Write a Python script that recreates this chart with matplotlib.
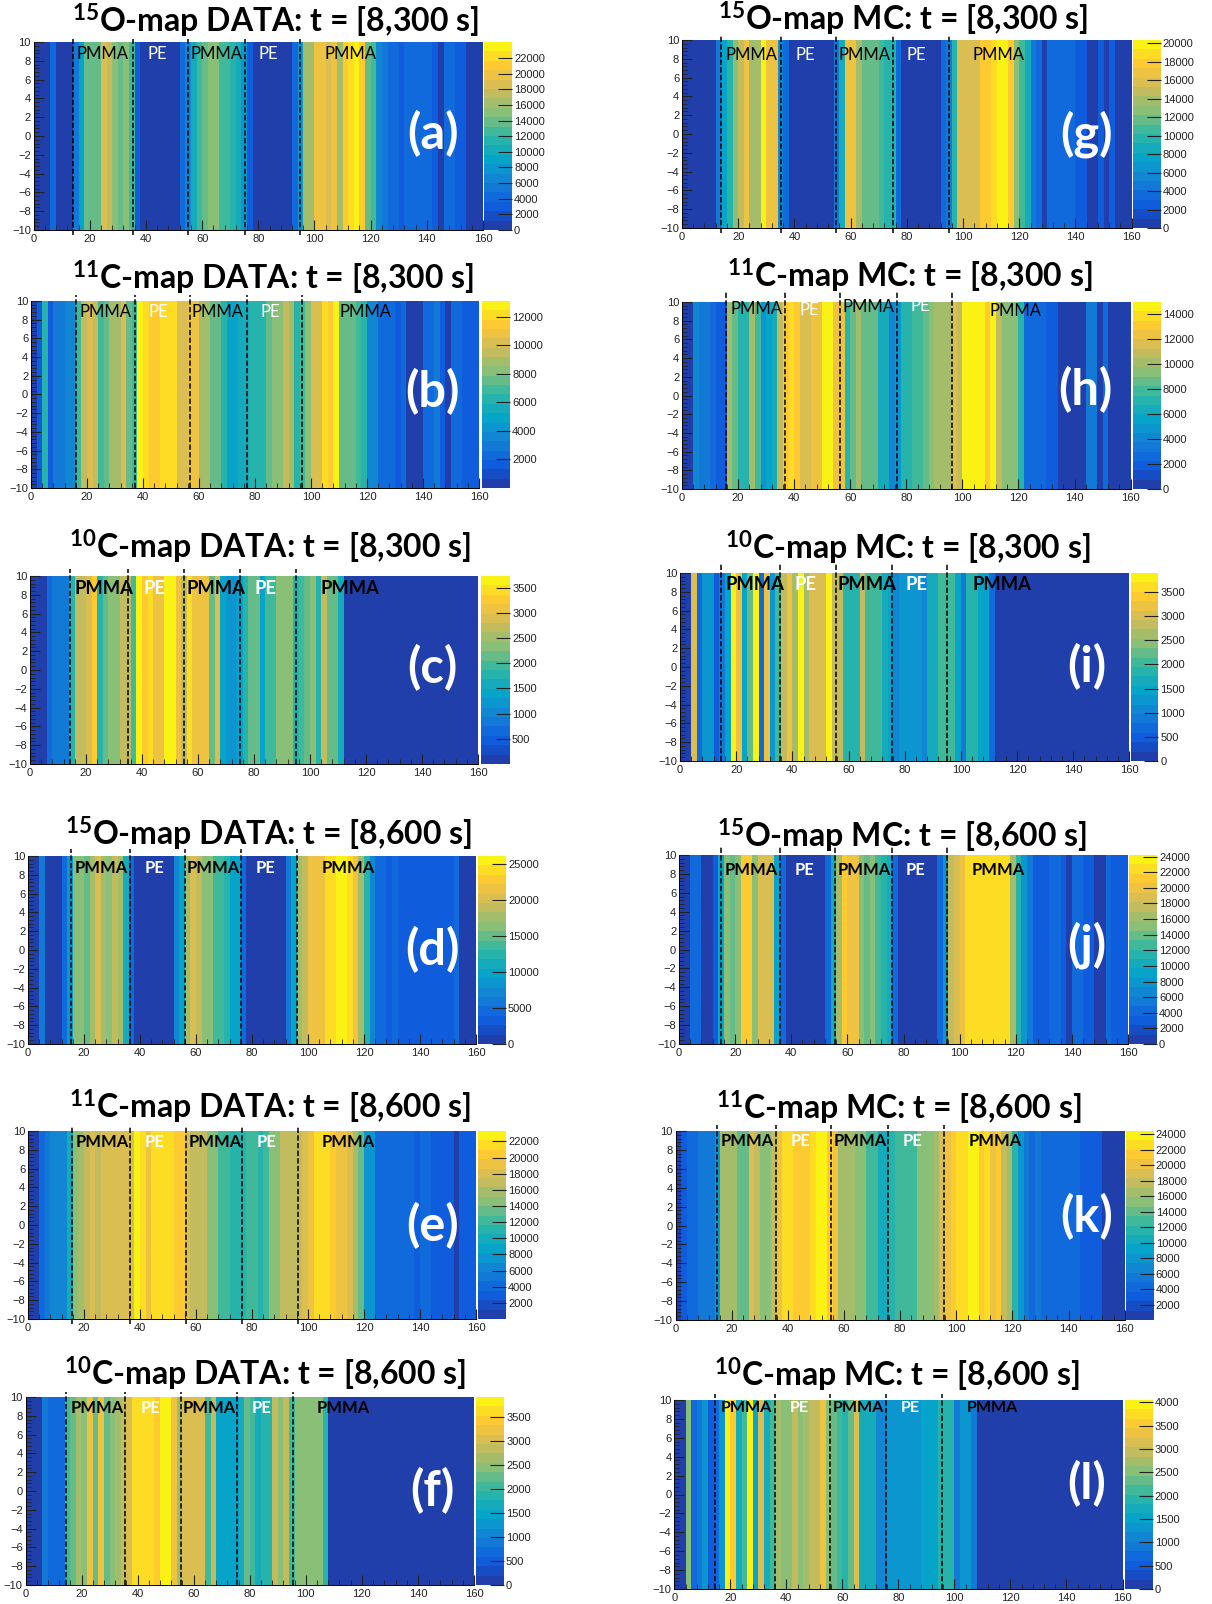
import numpy as np
import matplotlib
matplotlib.use("Agg")
import matplotlib.pyplot as plt
from matplotlib.colors import LinearSegmentedColormap, BoundaryNorm
from matplotlib.ticker import MultipleLocator

plt.rcParams['font.family'] = ['Liberation Sans', 'DejaVu Sans']
plt.rcParams['mathtext.fontset'] = 'custom'
plt.rcParams['mathtext.rm'] = 'Lato:bold'
plt.rcParams['mathtext.default'] = 'rm'

W, H = 1212, 1604
N_LEVELS = 20

# ROOT kBird palette, first stop pulled towards the blue of the picture
bird = [(0.14, 0.22, 0.62), (0.0592, 0.3599, 0.8684), (0.0780, 0.5041, 0.8385),
        (0.0232, 0.6419, 0.7914), (0.1802, 0.7178, 0.6425), (0.5301, 0.7492, 0.4662),
        (0.8186, 0.7328, 0.3499), (0.9956, 0.7862, 0.1968), (0.9764, 0.9832, 0.0539)]

# activity per 2 cm bin along x (0-160), read as colour class 0-19
o15_data_300 = [0,0,0,2,0,0,0,3,6,10, 10,10,14,13,11,10,11,9,1,0,
                0,0,0,0,0,0,2,4,7,9, 10,11,11,9,9,8,7,5,1,0,
                0,0,0,0,0,0,2,5,12,12, 15,15,14,15,12,16,18,19,16,10,
                9,4,3,2,2,1,2,2,2,2, 2,1,0,2,2,1,1,0,0,0]
c11_data_300 = [0,1,8,1,3,3,4,4,9,13, 14,13,9,10,12,12,14,10,9,19,
                18,16,16,18,18,18,14,14,15,15, 12,12,10,10,8,6,6,7,7,8,
                8,8,10,11,11,13,12,8,9,11, 14,14,18,16,19,10,10,10,9,8,
                4,4,2,2,2,1,2,0,0,0, 2,2,3,1,0,2,2,1,1,1]
c10_data_300 = [0,0,0,2,3,3,3,8,13,13, 14,16,8,10,11,11,13,13,9,19,
                16,18,15,15,19,19,15,13,17,15, 15,15,10,14,6,5,5,6,8,10,
                10,6,9,9,11,11,11,8,9,10, 11,8,13,10,10,7,0,0,0,0,
                0,0,0,0,0,0,0,0,0,0, 0,0,0,0,0,0,0,0,0,0]
o15_data_600 = [0,0,3,0,0,0,2,5,11,11, 10,12,14,12,11,13,12,7,2,0,
                0,0,0,0,0,0,4,6,12,14, 13,11,11,9,9,8,6,6,2,0,
                0,0,0,0,0,0,3,6,12,13, 15,15,15,17,17,19,19,17,15,12,
                8,4,2,2,1,2,1,1,1,1, 1,1,1,1,1,1,2,0,0,0]
c11_data_600 = [0,0,2,3,4,4,4,7,11,12, 13,14,13,14,14,14,14,14,14,19,
                17,15,17,17,17,18,16,16,14,13, 13,13,11,11,9,9,8,8,8,9,
                9,8,9,11,11,13,13,13,13,14, 15,17,17,17,16,15,15,14,12,10,
                5,5,2,2,2,2,2,2,2,1, 2,2,1,1,1,1,0,1,1,1]
c10_data_600 = [0,0,0,3,2,2,2,9,10,12, 11,15,10,15,10,11,12,13,14,17,
                18,17,17,16,19,19,15,12,14,14, 14,14,9,13,6,6,6,6,7,10,
                9,7,8,8,13,11,13,9,11,11, 11,11,11,8,0,0,0,0,0,0,
                0,0,0,0,0,0,0,0,0,0, 0,0,0,0,0,0,0,0,0,0]
o15_mc_300 = [0,0,0,0,0,0,3,6,8,11, 13,15,12,12,19,15,15,4,2,0,
              0,0,0,0,0,0,0,3,7,15, 15,12,10,10,10,9,8,8,2,0,
              0,0,0,0,0,0,2,3,8,14, 14,14,14,16,16,17,19,19,16,11,
              9,7,3,2,0,2,2,2,2,2, 1,1,0,0,1,0,1,0,0,0]
c11_mc_300 = [0,0,4,3,3,2,1,1,12,10, 8,8,12,9,5,6,7,13,16,17,
              16,14,14,15,15,19,19,15,15,8, 10,12,10,10,10,7,7,4,5,8,
              8,9,9,10,11,12,12,12,14,13, 19,19,19,19,16,19,13,11,11,11,
              8,2,2,2,2,1,1,0,0,0, 0,0,3,3,0,2,0,0,0,0]
c10_mc_300 = [0,0,14,2,5,5,1,3,6,19, 15,6,10,19,2,15,5,9,13,15,
              12,19,12,14,14,14,19,13,13,8, 8,8,13,9,9,9,7,6,4,5,
              5,5,5,4,7,7,9,9,9,6, 3,8,8,6,6,2,0,0,0,0,
              0,0,0,0,0,0,0,0,0,0, 0,0,0,0,0,0,0,0,0,0]
o15_mc_600 = [0,0,2,2,0,0,1,6,11,10, 11,16,16,11,14,14,14,6,2,0,
              0,0,0,0,0,0,2,7,12,16, 15,15,11,10,11,9,8,7,2,0,
              0,0,0,0,0,0,2,5,13,14, 15,17,17,17,18,17,18,17,17,12,
              8,5,3,1,1,1,2,2,1,0, 2,2,1,1,0,0,2,1,1,1]
c11_mc_600 = [0,1,2,2,3,3,3,5,12,12, 12,10,10,14,13,11,11,13,15,18,
              17,16,16,16,17,19,19,16,15,12, 12,12,11,11,9,9,7,7,8,9,
              9,9,9,11,11,11,12,14,15,16, 17,17,19,19,16,17,15,16,13,12,
              8,5,3,2,3,2,2,2,2,2, 2,2,1,1,1,1,0,0,0,0]
c10_mc_600 = [0,0,11,2,3,5,1,2,5,19, 16,7,9,19,6,14,7,9,12,11,
              11,13,11,12,13,13,15,11,10,9, 8,10,14,7,7,7,4,4,5,5,
              5,5,5,5,6,6,6,8,8,8, 3,5,5,3,0,0,0,0,0,0,
              0,0,0,0,0,0,0,0,0,0, 0,0,0,0,0,0,0,0,0,0]
# colour class as read -> contour of the colour bar
contour_of_class = np.array([0, 2, 3, 4, 5, 6, 7, 8, 9, 10, 11, 12, 13, 14, 15, 16, 17, 18, 18, 19])

x_edges = np.arange(0, 162, 2)
y_edges = np.array([-10, 10])

isotope_labels = ["$^{15}$O", "$^{11}$C", "$^{10}$C", "$^{15}$O", "$^{11}$C", "$^{10}$C",
                  "$^{15}$O", "$^{11}$C", "$^{10}$C", "$^{15}$O", "$^{11}$C", "$^{10}$C"]
kinds = ["DATA"] * 6 + ["MC"] * 6
t_ends = [300, 300, 300, 600, 600, 600, 300, 300, 300, 600, 600, 600]
letters = ["(a)", "(b)", "(c)", "(d)", "(e)", "(f)", "(g)", "(h)", "(i)", "(j)", "(k)", "(l)"]
series = [o15_data_300, c11_data_300, c10_data_300, o15_data_600, c11_data_600, c10_data_600,
          o15_mc_300, c11_mc_300, c10_mc_300, o15_mc_600, c11_mc_600, c10_mc_600]
z_max = [24050, 13100, 3730, 26060, 23300, 3925, 20360, 14980, 3890, 24200, 24440, 4050]
z_ticks = [np.arange(0, 22001, 2000), np.arange(2000, 12001, 2000), np.arange(500, 3501, 500),
           np.arange(0, 25001, 5000), np.arange(2000, 22001, 2000), np.arange(0, 3501, 500),
           np.arange(0, 20001, 2000), np.arange(0, 14001, 2000), np.arange(0, 3501, 500),
           np.arange(0, 24001, 2000), np.arange(2000, 24001, 2000), np.arange(0, 4001, 500)]
# dashed lines between the blocks, cm
walls = [[14, 35.3, 55, 75.1, 94.9], [16, 37, 56.8, 77, 96.9], [14.2, 35.1, 55, 75, 94.9],
         [15.3, 36.4, 56, 76.2, 96], [15.6, 36.6, 56.3, 76.4, 96.3], [14.6, 35.6, 55.3, 75.4, 95.4],
         [14, 35.1, 54.9, 75, 94.9], [15.7, 36.8, 56.5, 76.7, 96.4], [14.5, 35.5, 55.4, 75.4, 95.2],
         [14.9, 35.9, 55.7, 75.8, 95.5], [14.7, 35.8, 55.5, 75.8, 95.6], [14.7, 35.8, 55.5, 75.6, 95.5]]
block_names = ["PMMA", "PE", "PMMA", "PE", "PMMA"]
block_colors = ["black", "white", "black", "white", "black"]
block_x = [[24.7, 44, 65, 83.6, 113], [26.6, 45.6, 66.7, 85.4, 119.3], [26.3, 44.5, 66.4, 84, 114.3],
           [26.3, 45.2, 66.3, 84.8, 114.3], [26.6, 45.3, 66.7, 85.1, 114.5], [25.5, 44.5, 65.6, 84.1, 113.5],
           [24.8, 43.9, 64.9, 83.4, 112.7], [26.4, 45.5, 66.4, 85, 119], [26.8, 44.8, 66.6, 84.3, 114.6],
           [25.7, 44.7, 65.9, 84.3, 113.8], [25.6, 44.6, 65.8, 84.3, 113.8], [25.6, 44.6, 65.7, 84.1, 113.6]]
# pixels below the top edge
block_drop = [[12] * 5, [11] * 5, [13] * 5, [12] * 5, [11] * 5, [11] * 5,
              [15] * 5, [7, 8, 5, 4, 9], [11] * 5, [15] * 5, [10] * 5, [8] * 5]
block_bold = [False, False, True, True, True, True, False, False, True, True, True, True]
block_size = [12, 12, 13.2, 11.9, 11.9, 11.9, 12, 12, 13.2, 11.9, 11.9, 11.6]

# panel geometry in pixels: left, right, top, bottom, bar left, bar right
boxes = [(33.6, 483, 42, 230, 484, 512), (31, 479, 301, 488, 482, 510), (30, 478, 576, 764, 481, 510),
         (28, 476, 856, 1044, 478, 506), (28, 476, 1131, 1319, 478, 506), (25.5, 474, 1397, 1585, 476, 504),
         (682, 1131.7, 40, 228, 1133, 1160.7), (682, 1130.6, 302, 489, 1133, 1160.7),
         (680, 1129.4, 573, 761, 1130.6, 1158.4), (679, 1128, 855, 1044, 1129.4, 1157),
         (675.5, 1124.8, 1131, 1320, 1126, 1153.7), (674.3, 1122.5, 1400, 1589, 1124.8, 1152.6)]
title_pos = [(275.6, 33), (273.3, 290), (269.8, 559), (268.7, 846), (269.8, 1119), (265.2, 1386),
             (903.6, 31), (909.4, 288), (908.2, 560), (902.4, 848), (899, 1120), (896.7, 1387)]
letter_pos = [(433, 134), (432, 392), (432, 668), (432, 950), (433, 1226), (432, 1491),
              (1086.6, 134), (1085.4, 390), (1086.6, 667), (1086.6, 945), (1086.6, 1217), (1086.6, 1484)]
wall_over = [(3, 5), (6, 0), (7, 0), (7, 0), (5, 5), (5, 0), (5, 5), (11, 0), (9, 0), (9, 0), (6, 0), (6, 0)]

cmap = LinearSegmentedColormap.from_list("bird", bird, N=256)
level_colors = cmap((np.arange(N_LEVELS) + 0.5) / N_LEVELS)
cmap20 = LinearSegmentedColormap.from_list("bird20", level_colors, N=N_LEVELS)

fig = plt.figure(figsize=(W / 100, H / 100), dpi=100)

for i in range(12):
    left, right, top, bottom, bar_l, bar_r = boxes[i]
    ax = fig.add_axes([left / W, 1 - bottom / H, (right - left) / W, (bottom - top) / H])
    cax = fig.add_axes([bar_l / W, 1 - bottom / H, (bar_r - bar_l) / W, (bottom - top) / H])

    step = z_max[i] / N_LEVELS
    z = (contour_of_class[np.array(series[i])] + 0.5) * step
    norm = BoundaryNorm(np.linspace(0, z_max[i], N_LEVELS + 1), N_LEVELS)
    mesh = ax.pcolormesh(x_edges, y_edges, z.reshape(1, -1), cmap=cmap20, norm=norm,
                         linewidth=0, antialiased=False)
    ax.set_xlim(0, 160)
    ax.set_ylim(-10, 10)
    ax.xaxis.set_major_locator(MultipleLocator(20))
    ax.xaxis.set_minor_locator(MultipleLocator(4))
    ax.yaxis.set_major_locator(MultipleLocator(2))
    ax.yaxis.set_minor_locator(MultipleLocator(0.4))
    ax.tick_params(which='major', direction='in', length=7, width=0.8, labelsize=8, pad=3, colors='#222222')
    ax.tick_params(which='minor', direction='in', length=3.5, width=0.6, colors='#222222')
    ax.tick_params(axis='y', which='major', pad=2)
    ax.spines['top'].set_visible(False)
    ax.spines['right'].set_visible(False)
    ax.spines['left'].set_linewidth(0.7)
    ax.spines['bottom'].set_linewidth(0.7)

    cb = fig.colorbar(mesh, cax=cax, ticks=z_ticks[i], spacing='proportional')
    cb.outline.set_visible(False)
    cb.minorticks_off()
    cax.tick_params(direction='in', length=10, width=0.8, labelsize=8, pad=1.5, colors='#222222')
    cax.set_yticklabels([str(v) for v in z_ticks[i]])

    # dashed block walls stick out of the frame a little
    over_top, over_bot = wall_over[i]
    y_per_px = 20 / (bottom - top)
    for w in walls[i]:
        ax.plot([w, w], [-10 - over_bot * y_per_px, 10 + over_top * y_per_px], color='black',
                lw=1.1, dashes=(3.5, 1.5), clip_on=False, zorder=5)

    for name, col, bx, drop in zip(block_names, block_colors, block_x[i], block_drop[i]):
        ax.text(bx, 10 - drop * y_per_px, name, color=col, family='Lato', fontsize=block_size[i],
                weight='bold' if block_bold[i] else 'normal', ha='center', va='center', zorder=6)

    fig.text(title_pos[i][0] / W, 1 - title_pos[i][1] / H,
             isotope_labels[i] + "-map " + kinds[i] + ": t = [8," + str(t_ends[i]) + " s]",
             family='Lato', weight='bold', fontsize=23, ha='center', va='baseline')
    fig.text(letter_pos[i][0] / W, 1 - letter_pos[i][1] / H, letters[i], color='white',
             family='Lato', weight='bold', fontsize=35, ha='center', va='center', zorder=10)

fig.savefig("out.png", dpi=100)
